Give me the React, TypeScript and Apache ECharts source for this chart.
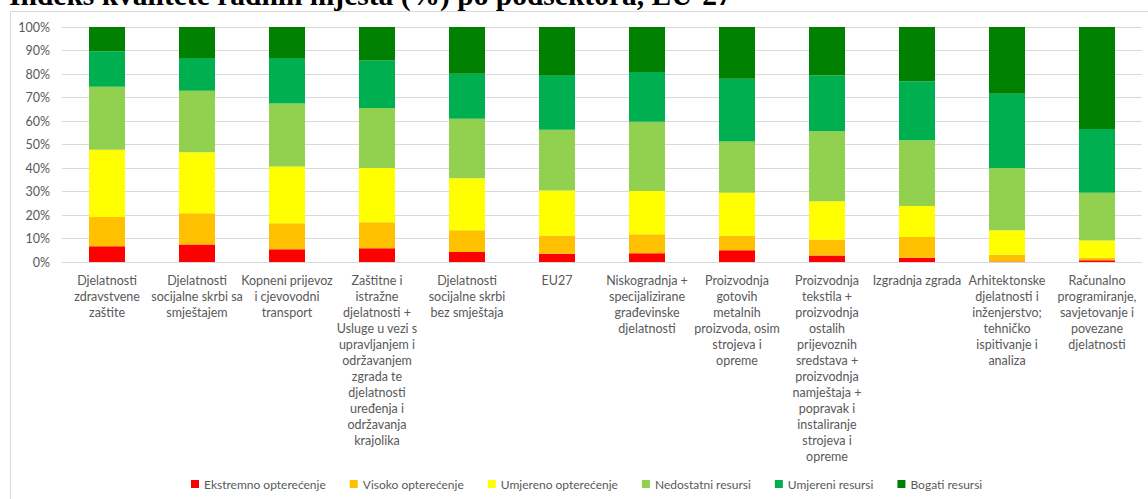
import React, { useEffect, useRef } from "react";
import * as echarts from "echarts";

const titleText = "Indeks kvalitete radnih mjesta (%) po podsektora, EU-27";

const categories = [
  "Djelatnosti\nzdravstvene\nzaštite",
  "Djelatnosti\nsocijalne skrbi sa\nsmještajem",
  "Kopneni prijevoz\ni cjevovodni\ntransport",
  "Zaštitne i\nistražne\ndjelatnosti +\nUsluge u vezi s\nupravljanjem i\nodržavanjem\nzgrada te\ndjelatnosti\nuređenja i\nodržavanja\nkrajolika",
  "Djelatnosti\nsocijalne skrbi\nbez smještaja",
  "EU27",
  "Niskogradnja +\nspecijalizirane\ngrađevinske\ndjelatnosti",
  "Proizvodnja\ngotovih\nmetalnih\nproizvoda, osim\nstrojeva i\nopreme",
  "Proizvodnja\ntekstila +\nproizvodnja\nostalih\nprijevoznih\nsredstava +\nproizvodnja\nnamještaja +\npopravak i\ninstaliranje\nstrojeva i\nopreme",
  "Izgradnja zgrada",
  "Arhitektonske\ndjelatnosti i\ninženjerstvo;\ntehničko\nispitivanje i\nanaliza",
  "Računalno\nprogramiranje,\nsavjetovanje i\npovezane\ndjelatnosti",
];

const seriesNames = [
  "Ekstremno opterećenje",
  "Visoko opterećenje",
  "Umjereno opterećenje",
  "Nedostatni resursi",
  "Umjereni resursi",
  "Bogati resursi",
];

const ekstremno = [6.7, 7.5, 5.4, 5.8, 4.3, 3.5, 3.7, 5.0, 2.8, 1.8, 0.2, 0.7];
const visoko = [12.4, 13.2, 11.1, 11.1, 9.2, 7.8, 8.1, 6.3, 6.8, 8.8, 2.9, 1.1];
const umjereno = [28.7, 26.0, 24.1, 23.1, 22.1, 19.1, 18.4, 18.2, 16.2, 13.2, 10.4, 7.4];
const nedostatni = [26.8, 26.2, 26.8, 25.5, 25.4, 25.9, 29.5, 21.8, 29.8, 28.0, 26.5, 20.3];
const umjereniRes = [15.0, 13.9, 19.4, 20.2, 19.1, 23.0, 21.2, 26.7, 23.8, 25.1, 31.6, 27.1];
const bogati = [10.4, 13.2, 13.2, 14.3, 19.9, 20.7, 19.1, 22.0, 20.6, 23.1, 28.4, 43.4];

const seriesData = [ekstremno, visoko, umjereno, nedostatni, umjereniRes, bogati];
const colors = ["#FF0000", "#FFC000", "#FFFF00", "#92D050", "#00B050", "#008000"];

const yTicks = [0, 10, 20, 30, 40, 50, 60, 70, 80, 90, 100];

export default function App() {
  const ref = useRef<HTMLDivElement>(null);
  useEffect(() => {
    if (!ref.current) return;
    const chart = echarts.init(ref.current, null, { renderer: "svg" });
    const font = "Lato";
    chart.setOption({
      animation: false,
      backgroundColor: "#ffffff",
      color: colors,
      graphic: [
        {
          type: "rect",
          shape: { x: 10.5, y: 11.5, width: 1160, height: 520 },
          style: { fill: "none", stroke: "#D9D9D9", lineWidth: 1 },
          z: -1,
        },
        {
          type: "text",
          x: 9,
          y: -20,
          style: {
            text: titleText,
            font: "bold 29.5px 'Liberation Serif', 'Times New Roman', serif",
            fill: "#000000",
            verticalAlign: "top",
          },
        },
      ],
      grid: { left: 62, right: 6, top: 27, bottom: 237, containLabel: false },
      legend: {
        top: 478,
        left: 191,
        itemWidth: 8,
        itemHeight: 8,
        itemGap: 24,
        icon: "rect",
        padding: 0,
        textStyle: { fontFamily: font, fontSize: 12, color: "#595959" },
        data: seriesNames,
      },
      xAxis: {
        type: "category",
        data: categories,
        axisLine: { lineStyle: { color: "#D9D9D9" } },
        axisTick: { show: false },
        axisLabel: {
          interval: 0,
          margin: 10,
          color: "#595959",
          fontFamily: font,
          fontSize: 12.5,
          lineHeight: 16,
        },
      },
      yAxis: {
        type: "value",
        min: yTicks[0],
        max: yTicks[yTicks.length - 1],
        interval: 10,
        axisLine: { show: false },
        axisTick: { show: false },
        splitLine: { lineStyle: { color: "#D9D9D9" } },
        axisLabel: {
          formatter: "{value}%",
          color: "#595959",
          fontFamily: font,
          fontSize: 12.5,
          margin: 12,
        },
      },
      series: seriesNames.map((name, i) => ({
        name,
        type: "bar",
        stack: "total",
        barWidth: "40%",
        data: seriesData[i],
        itemStyle: { color: colors[i] },
      })),
    });
    return () => chart.dispose();
  }, []);
  return (
    <div
      ref={ref}
      style={{ position: "fixed", left: 0, top: 0, width: 1148, height: 499 }}
    />
  );
}
